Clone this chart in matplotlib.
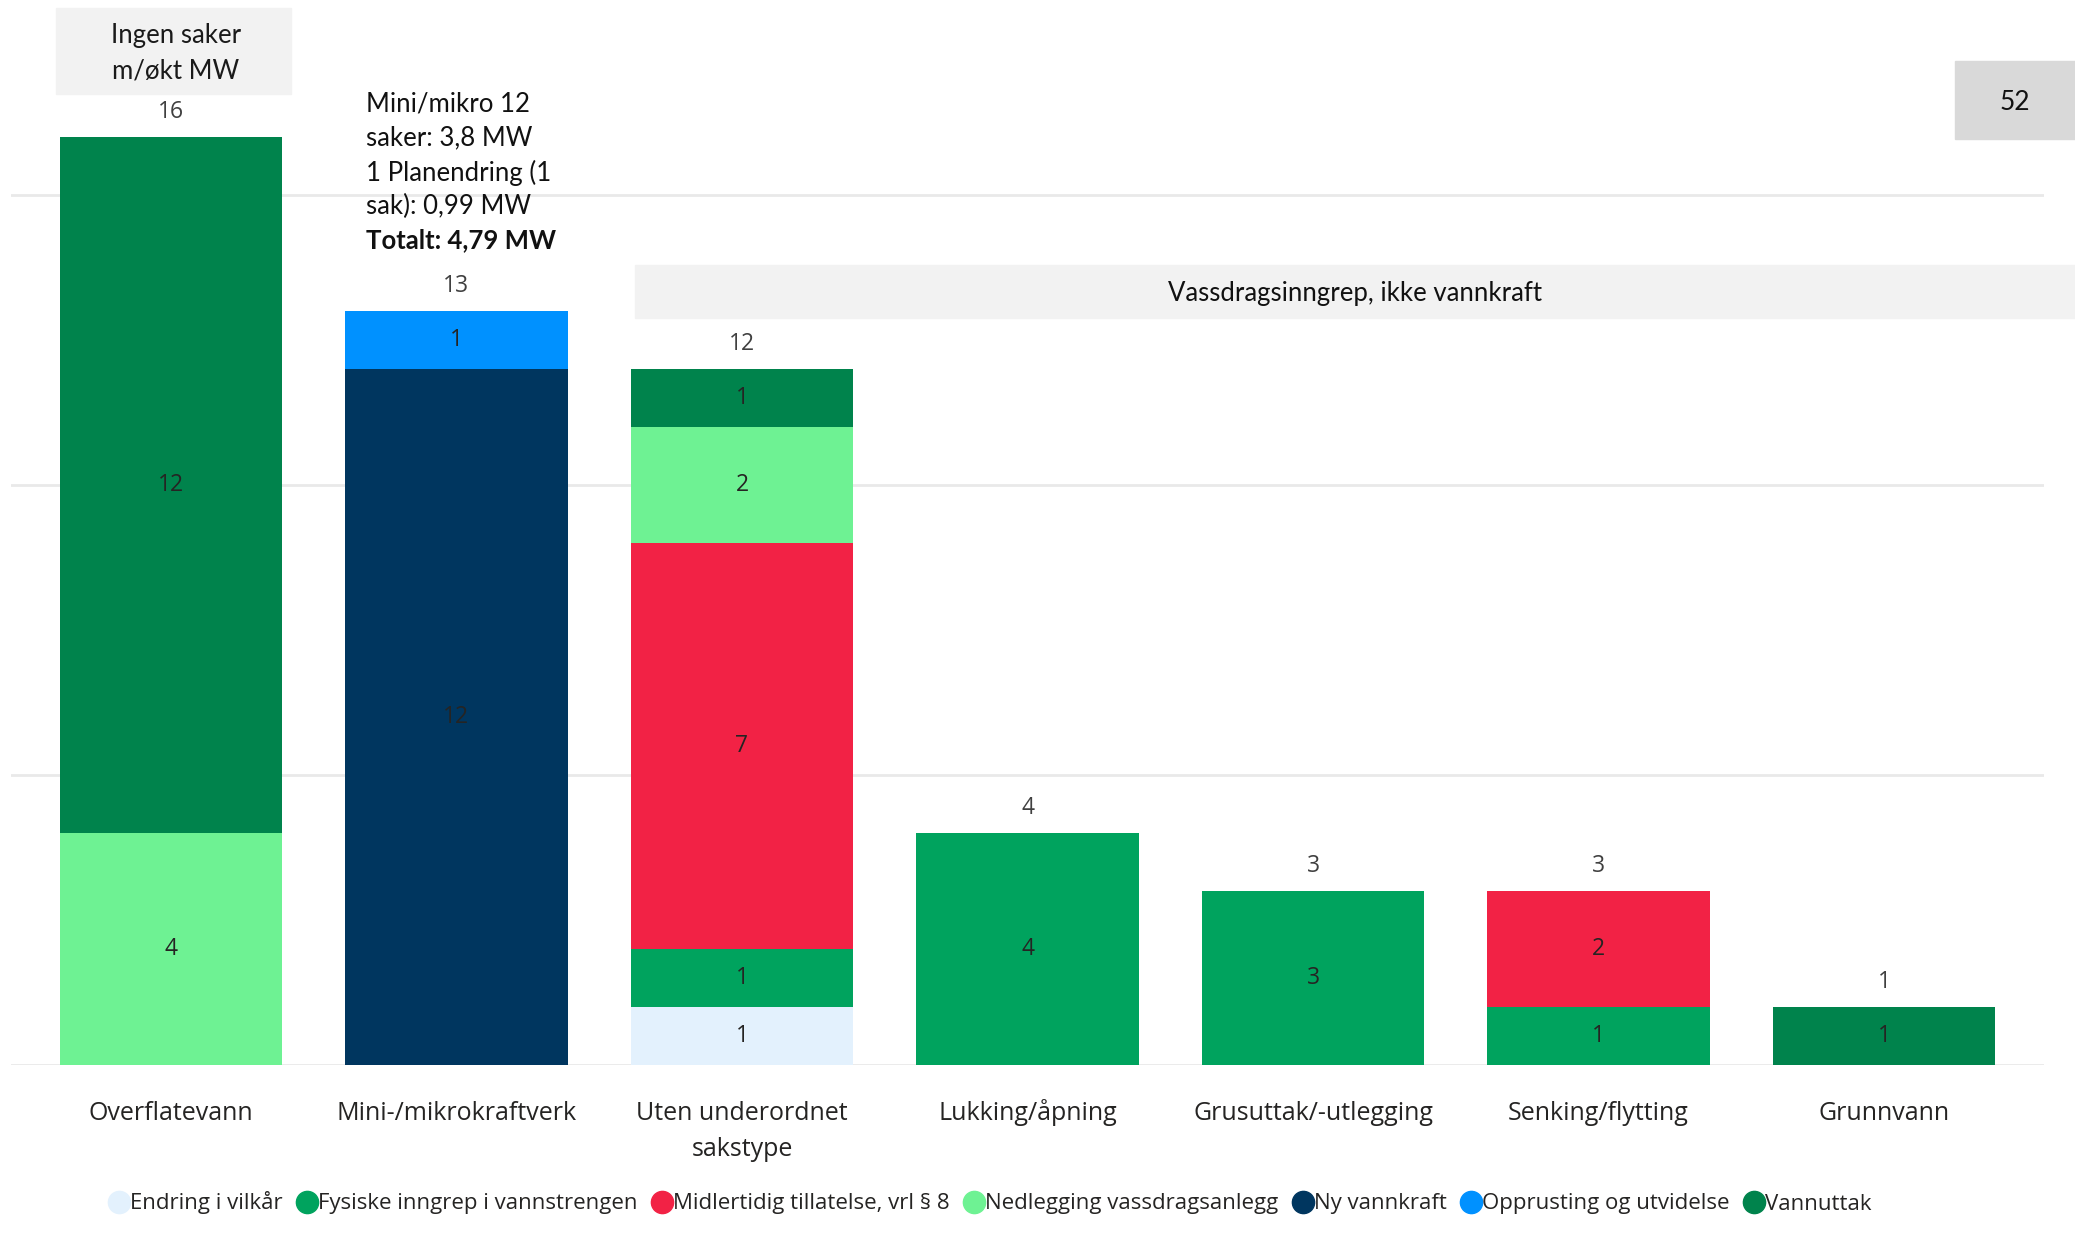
import matplotlib
matplotlib.use("Agg")
import matplotlib.pyplot as plt
from matplotlib.patches import Rectangle
from matplotlib.lines import Line2D
import matplotlib.transforms as mtransforms
import numpy as np

categories = ["Overflatevann", "Mini-/mikrokraftverk", "Uten underordnet\nsakstype",
              "Lukking/åpning", "Grusuttak/-utlegging", "Senking/flytting", "Grunnvann"]
series_names = ["Endring i vilkår", "Fysiske inngrep i vannstrengen",
                "Midlertidig tillatelse, vrl § 8", "Nedlegging vassdragsanlegg",
                "Ny vannkraft", "Opprusting og utvidelse", "Vannuttak"]
series_values = {
    "Endring i vilkår":               [0, 0, 1, 0, 0, 0, 0],
    "Fysiske inngrep i vannstrengen": [0, 0, 1, 4, 3, 1, 0],
    "Midlertidig tillatelse, vrl § 8": [0, 0, 7, 0, 0, 2, 0],
    "Nedlegging vassdragsanlegg":     [4, 0, 2, 0, 0, 0, 0],
    "Ny vannkraft":                   [0, 12, 0, 0, 0, 0, 0],
    "Opprusting og utvidelse":        [0, 1, 0, 0, 0, 0, 0],
    "Vannuttak":                      [12, 0, 1, 0, 0, 0, 1],
}
colors = {
    "Endring i vilkår": "#E3F1FD",
    "Fysiske inngrep i vannstrengen": "#00A35E",
    "Midlertidig tillatelse, vrl § 8": "#F22245",
    "Nedlegging vassdragsanlegg": "#6EF293",
    "Ny vannkraft": "#00365F",
    "Opprusting og utvidelse": "#0091FF",
    "Vannuttak": "#00834C",
}
note_left = "Ingen saker\nm/økt MW"
note_mini = ["Mini/mikro 12", "saker: 3,8 MW", "1 Planendring (1", "sak): 0,99 MW"]
note_mini_bold = "Totalt: 4,79 MW"
group_label = "Vassdragsinngrep, ikke vannkraft"
page_no = "52"

W, H = 2075, 1239
fig = plt.figure(figsize=(W / 100, H / 100), dpi=100)
ax = fig.add_axes([11 / W, 1 - 1065 / H, (2044 - 11) / W, (1065 - 79) / H])
ax.set_xlim(-0.56, 6.56)
ax.set_ylim(0, 17)
for s in ax.spines.values():
    s.set_visible(False)
ax.set_yticks([])
for g in [0, 5, 10, 15]:
    ax.axhline(g, color="#E9E9E9", lw=2, zorder=0)

FAM = ["Open Sans", "DejaVu Sans"]
txtc = "#252423"
x = np.arange(len(categories))
bottom = np.zeros(len(categories))
for name in series_names:
    vals = np.array(series_values[name], dtype=float)
    ax.bar(x, vals, bottom=bottom, width=0.778, color=colors[name], zorder=2)
    for i, v in enumerate(vals):
        if v > 0:
            ax.text(x[i], bottom[i] + v / 2, f"{int(v)}", ha="center", va="center",
                    fontsize=16.5, color=txtc, family=FAM, zorder=3)
    bottom += vals

for i, t in enumerate(bottom):
    ax.text(x[i], t + 0.43, f"{int(t)}", ha="center", va="center",
            fontsize=16.5, color="#404040", family=FAM)

ax.set_xticks(x)
ax.set_xticklabels([])
ax.tick_params(axis="x", length=0)
base = mtransforms.blended_transform_factory(ax.transData, ax.transAxes)
for i, lab in enumerate(categories):
    for j, line in enumerate(lab.split("\n")):
        tr = mtransforms.offset_copy(base, fig=fig, x=0, y=-(55 + 36 * j), units="dots")
        ax.text(x[i], 0, line, transform=tr, ha="center", va="baseline",
                fontsize=18, color=txtc, family=FAM, clip_on=False)

def fx(px):
    return px / W

def fy(py):
    return 1 - py / H

NOTE = ["Lato", "DejaVu Sans"]
fig.patches.append(Rectangle((fx(56), fy(94)), fx(291) - fx(56), fy(8) - fy(94),
                             transform=fig.transFigure, color="#F2F2F2", zorder=0))
fig.text(fx(176), fy(53), note_left, ha="center", va="center", fontsize=18.5,
         family=NOTE, color="#1a1a1a", linespacing=1.55)

ys = [104, 138, 173, 206]
for yy, line in zip(ys, note_mini):
    fig.text(fx(366), fy(yy), line, ha="left", va="center", fontsize=18.5,
             family=NOTE, color="#111111")
fig.text(fx(366), fy(240), note_mini_bold, ha="left", va="center", fontsize=18.5,
         family=NOTE, weight="bold", color="#111111")

fig.patches.append(Rectangle((fx(635), fy(318)), fx(2075) - fx(635), fy(265) - fy(318),
                             transform=fig.transFigure, color="#F2F2F2", zorder=0))
fig.text(fx(1355), fy(293), group_label, ha="center", va="center", fontsize=18.5,
         family=NOTE, color="#111111")

fig.patches.append(Rectangle((fx(1955), fy(139)), fx(2075) - fx(1955), fy(61) - fy(139),
                             transform=fig.transFigure, color="#D9D9D9", zorder=0))
fig.text(fx(2015), fy(102), page_no, ha="center", va="center", fontsize=19,
         family=NOTE, color="#111111")

handles = [Line2D([0], [0], marker="o", linestyle="none", markersize=16,
                  markerfacecolor=colors[n], markeredgecolor=colors[n]) for n in series_names]
fig.legend(handles, series_names, loc="center", bbox_to_anchor=(0.477, 1 - 1203 / H),
           ncol=7, frameon=False, handletextpad=0.0, columnspacing=0.6,
           handlelength=1.0, prop={"family": FAM, "size": 16},
           labelcolor=txtc)

fig.savefig("out.png", dpi=100, facecolor="white")
